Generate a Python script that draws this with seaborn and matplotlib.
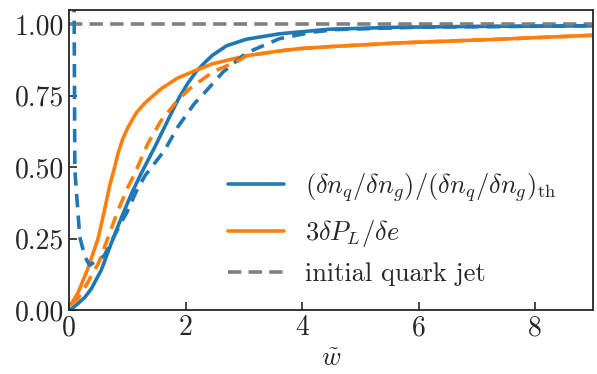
import numpy as np
import pandas as pd
import matplotlib
matplotlib.use("Agg")
import matplotlib.pyplot as plt
import seaborn as sns

# ---- data ----
w_blue = [0.0, 0.04, 0.15, 0.27, 0.38, 0.55, 0.72, 0.9, 1.07, 1.18, 1.24, 1.47, 1.75, 1.89, 2.04, 2.18, 2.32, 2.46, 2.7, 3.04, 3.61, 4.46, 5.66, 7.0, 9.0]
v_blue = [0.0, 0.004, 0.023, 0.045, 0.075, 0.14, 0.233, 0.326, 0.408, 0.455, 0.48, 0.571, 0.688, 0.745, 0.795, 0.835, 0.865, 0.892, 0.925, 0.948, 0.967, 0.983, 0.99, 0.993, 0.995]

w_orange = [0.0, 0.04, 0.15, 0.31, 0.495, 0.6, 0.7, 0.78, 0.84, 0.92, 1.01, 1.15, 1.29, 1.45, 1.58, 1.86, 2.15, 2.46, 3.04, 3.61, 3.95, 4.46, 5.66, 7.37, 9.0]
v_orange = [0.015, 0.023, 0.06, 0.14, 0.25, 0.345, 0.44, 0.50, 0.55, 0.60, 0.64, 0.69, 0.723, 0.752, 0.775, 0.812, 0.837, 0.862, 0.89, 0.907, 0.915, 0.922, 0.935, 0.948, 0.962]

w_blue_d = [0.06, 0.084, 0.096, 0.18, 0.27, 0.35, 0.44, 0.5, 0.6, 0.75, 0.9, 0.98, 1.15, 1.3, 1.64, 1.86, 2.15, 2.32, 2.64, 3.04, 3.61, 4.18, 4.6, 6.0, 9.0]
v_blue_d = [1.5, 1.05, 0.49, 0.256, 0.186, 0.157, 0.169, 0.175, 0.19, 0.25, 0.31, 0.338, 0.415, 0.47, 0.56, 0.64, 0.723, 0.76, 0.833, 0.9, 0.95, 0.973, 0.982, 0.99, 0.995]

w_orange_d = [0.03, 0.15, 0.27, 0.5, 0.67, 0.84, 1.01, 1.13, 1.35, 1.58, 1.86, 2.07, 2.46, 2.92, 3.04, 3.61, 3.95, 4.46, 5.66, 7.37, 9.0]
v_orange_d = [0.02, 0.04, 0.08, 0.163, 0.256, 0.35, 0.431, 0.48, 0.583, 0.664, 0.734, 0.775, 0.833, 0.874, 0.89, 0.907, 0.915, 0.922, 0.935, 0.948, 0.962]

w_init = [0.0, 9.0]
v_init = [1.0, 1.0]

labels = [r"$(\delta n_q/\delta n_g)/(\delta n_q/\delta n_g)_{\rm th}$",
          r"$3\delta P_L/\delta e$",
          "initial quark jet"]
xticks = [0, 2, 4, 6, 8]
yticks = [0.0, 0.25, 0.5, 0.75, 1.0]

# ---- style ----
sns.set_style("ticks")
plt.rcParams["font.family"] = ["serif"]
plt.rcParams["font.serif"] = ["cmr10", "DejaVu Serif"]
plt.rcParams["mathtext.fontset"] = "cm"
plt.rcParams["axes.formatter.use_mathtext"] = True
plt.rcParams["font.size"] = 19

blue = "#1f77b4"
orange = "#ff7f0e"
gray = "#808080"
lw = 2.6

fig = plt.figure(figsize=(5.97, 3.74), dpi=100)
ax = fig.add_axes([0.116, 0.171, 0.994 - 0.116, 0.973 - 0.171])

df_b = pd.DataFrame({"w": w_blue, "v": v_blue})
df_o = pd.DataFrame({"w": w_orange, "v": v_orange})
df_bd = pd.DataFrame({"w": w_blue_d, "v": v_blue_d})
df_od = pd.DataFrame({"w": w_orange_d, "v": v_orange_d})
df_i = pd.DataFrame({"w": w_init, "v": v_init})

sns.lineplot(data=df_b, x="w", y="v", ax=ax, color=blue, lw=lw, label=labels[0], estimator=None)
sns.lineplot(data=df_o, x="w", y="v", ax=ax, color=orange, lw=lw, label=labels[1], estimator=None)
sns.lineplot(data=df_i, x="w", y="v", ax=ax, color=gray, lw=lw, label=labels[2], estimator=None)
ax.lines[-1].set_dashes((3.7, 2.0))
sns.lineplot(data=df_bd, x="w", y="v", ax=ax, color=blue, lw=lw, estimator=None, legend=False)
ax.lines[-1].set_dashes((3.7, 2.3))
sns.lineplot(data=df_od, x="w", y="v", ax=ax, color=orange, lw=lw, estimator=None, legend=False)
ax.lines[-1].set_dashes((3.7, 2.3))
for ln in ax.lines:
    ln.set_solid_joinstyle("round")
    ln.set_dash_joinstyle("round")

ax.set_xlim(0, 9)
ax.set_ylim(0, 1.05)
ax.set_xticks(xticks)
ax.set_yticks(yticks)
ax.set_xticklabels([str(t) for t in xticks])
ax.set_yticklabels([f"{t:.2f}" for t in yticks])
ax.set_xlabel(r"$\tilde{w}$", fontsize=19)
ax.set_ylabel("")
ax.tick_params(direction="in", length=6, width=1.2, labelsize=20)
for s in ax.spines.values():
    s.set_visible(True)
    s.set_linewidth(1.3)

leg = ax.legend(loc="lower right", frameon=False, fontsize=19, handlelength=2.1,
                labelspacing=0.52, bbox_to_anchor=(0.975, 0.0))

fig.savefig("out.png", dpi=100)
